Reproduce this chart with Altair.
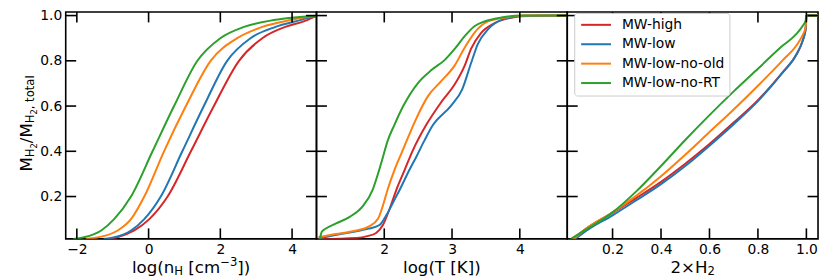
import altair as alt
import pandas as pd

SERIES = ["MW-high", "MW-low", "MW-low-no-old", "MW-low-no-RT"]
COLORS = ["#d62728", "#1f77b4", "#ff7f0e", "#2ca02c"]

# ---- panel 1: log(n_H) ----
P1_Y = [0.012, 0.02, 0.05, 0.1, 0.2, 0.4, 0.6, 0.8, 0.9, 0.95, 0.98, 0.995, 1.0]
P1_X_HIGH = [-1.15, -0.87, -0.4, 0.02, 0.53, 1.18, 1.82, 2.52, 3.17, 3.81, 4.42, 4.62, 4.8]
P1_X_LOW = [-1.25, -0.95, -0.49, -0.12, 0.34, 0.94, 1.54, 2.19, 2.84, 3.54, 4.23, 4.55, 4.8]
P1_X_NOOLD = [-1.75, -1.4, -0.86, -0.49, -0.12, 0.43, 1.04, 1.73, 2.47, 3.17, 3.95, 4.45, 4.8]
P1_X_NORT = [-2.1, -1.8, -1.32, -0.96, -0.49, 0.11, 0.71, 1.36, 2.0, 2.66, 3.49, 4.3, 4.8]

# ---- panel 2: log(T) ----
P2_X_HIGH = [1.03, 1.6, 1.75, 1.88, 1.98, 2.08, 2.18, 2.30, 2.42, 2.62, 2.84, 3.04, 3.19, 3.28, 3.43, 3.63, 3.87, 4.07, 4.8]
P2_Y_HIGH = [0.012, 0.017, 0.025, 0.039, 0.074, 0.146, 0.231, 0.317, 0.403, 0.517, 0.617, 0.696, 0.781, 0.853, 0.924, 0.967, 0.99, 0.999, 1.0]
P2_X_LOW = [1.03, 1.28, 1.57, 1.77, 1.93, 2.03, 2.13, 2.23, 2.37, 2.47, 2.59, 2.72, 2.99, 3.15, 3.28, 3.38, 3.53, 3.73, 4.02, 4.8]
P2_Y_LOW = [0.014, 0.03, 0.045, 0.058, 0.074, 0.117, 0.174, 0.231, 0.317, 0.374, 0.446, 0.517, 0.603, 0.674, 0.789, 0.874, 0.939, 0.981, 0.997, 1.0]
P2_X_NOOLD = [1.03, 1.28, 1.57, 1.77, 1.91, 1.98, 2.05, 2.15, 2.25, 2.35, 2.45, 2.65, 2.84, 3.04, 3.19, 3.33, 3.53, 3.82, 4.05, 4.8]
P2_Y_NOOLD = [0.02, 0.034, 0.049, 0.067, 0.103, 0.16, 0.231, 0.317, 0.389, 0.46, 0.53, 0.646, 0.71, 0.78, 0.86, 0.924, 0.974, 0.993, 1.0, 1.0]
P2_X_NORT = [1.05, 1.08, 1.12, 1.29, 1.49, 1.69, 1.83, 1.91, 1.98, 2.05, 2.15, 2.28, 2.5, 2.7, 2.89, 3.04, 3.19, 3.33, 3.48, 3.73, 4.02, 4.8]
P2_Y_NORT = [0.012, 0.045, 0.055, 0.081, 0.11, 0.16, 0.231, 0.303, 0.374, 0.446, 0.517, 0.60, 0.703, 0.76, 0.803, 0.853, 0.91, 0.953, 0.974, 0.991, 1.0, 1.0]

# ---- panel 3: 2 x H2 ----
P3_X_TAIL = [0.1, 0.2, 0.3, 0.4, 0.5, 0.6, 0.7, 0.8, 0.9, 0.96, 0.985, 0.997, 1.0, 1.06]
P3_X_START = [0.035, 0.045, 0.04, 0.027]
P3_Y_HIGH = [0.012, 0.065, 0.128, 0.195, 0.265, 0.345, 0.432, 0.527, 0.626, 0.747, 0.83, 0.89, 0.94, 1.0, 1.0]
P3_Y_LOW = [0.012, 0.055, 0.117, 0.185, 0.255, 0.335, 0.425, 0.52, 0.622, 0.745, 0.83, 0.89, 0.94, 1.0, 1.0]
P3_Y_NOOLD = [0.012, 0.065, 0.13, 0.205, 0.29, 0.385, 0.485, 0.585, 0.69, 0.80, 0.87, 0.915, 0.95, 1.0, 1.0]
P3_Y_NORT = [0.012, 0.06, 0.13, 0.225, 0.335, 0.45, 0.56, 0.665, 0.765, 0.865, 0.92, 0.955, 0.978, 1.0, 1.0]

Y_TICKS = [0.2, 0.4, 0.6, 0.8, 1.0]
P1_TICKS = [-2, 0, 2, 4]
P2_TICKS = [2, 3, 4]
P3_TICKS = [0.2, 0.4, 0.6, 0.8, 1.0]

Y_DOM = [0.013, 1.016]
P1_DOM = [-2.31, 4.68]
P2_DOM = [1.0, 4.7]
P3_DOM = [0.013, 1.048]

W, H, TL = 252, 228, 10.5
FONT = "DejaVu Sans"
F, S, SS = 16.7, 11.7, 8.3

ADV = {'M': 0.863, 'H': 0.752, '2': 0.636, '/': 0.337, ',': 0.318, ' ': 0.318, 't': 0.392,
       'o': 0.612, 'a': 0.613, 'l': 0.278, 'g': 0.635, '(': 0.390, ')': 0.390, 'n': 0.634,
       '[': 0.390, ']': 0.390, 'c': 0.550, 'm': 0.974, '\u2212': 0.838, '3': 0.636,
       '\u00d7': 0.838, 'T': 0.611, 'K': 0.656}


def tw(s, size):
    return sum(ADV[c] for c in s) * size


def frame(xs_list, ys_list):
    rows = []
    for name, xs, ys in zip(SERIES, xs_list, ys_list):
        for x, y in zip(xs, ys):
            rows.append({"series": name, "x": x, "y": y})
    return pd.DataFrame(rows)


df1 = frame([P1_X_HIGH, P1_X_LOW, P1_X_NOOLD, P1_X_NORT], [P1_Y] * 4)
df2 = frame([P2_X_HIGH, P2_X_LOW, P2_X_NOOLD, P2_X_NORT], [P2_Y_HIGH, P2_Y_LOW, P2_Y_NOOLD, P2_Y_NORT])
df3 = frame([[s] + P3_X_TAIL for s in P3_X_START], [P3_Y_HIGH, P3_Y_LOW, P3_Y_NOOLD, P3_Y_NORT])

AX = dict(domain=False, ticks=False, tickSize=0, grid=False, labelPadding=4, labelFontSize=13.9,
          labelFont=FONT, labelColor="black", title=None, labelFlush=False)


def text_layer(s, x, y, size, angle=None, align="left"):
    kw = dict(align=align, baseline="alphabetic", font=FONT, fontSize=size, color="black")
    if angle is not None:
        kw["angle"] = angle
    return alt.Chart(pd.DataFrame({"t": [s]})).mark_text(**kw).encode(
        x=alt.value(x), y=alt.value(y), text="t:N")


def pieces_h(pieces, base_y, center_x):
    total = sum(tw(s, sz) for s, sz, _ in pieces)
    x = center_x - total / 2
    out = []
    for s, sz, dy in pieces:
        lead = len(s) - len(s.lstrip(" "))
        out.append(text_layer(s.strip(" "), x + tw(" " * lead, sz), base_y + dy, sz))
        x += tw(s, sz)
    return out


def panel(df, dom, ticks, fmt, show_y, legend):
    xs = alt.Scale(domain=dom, nice=False, zero=False)
    ys = alt.Scale(domain=Y_DOM, nice=False, zero=False)
    xax = alt.Axis(values=ticks, format=fmt, **AX)
    yax = alt.Axis(values=Y_TICKS, format=".1f", **AX) if show_y else None
    xenc = alt.X("x:Q", scale=xs, axis=xax)
    yenc = alt.Y("y:Q", scale=ys, axis=yax)
    lines = alt.Chart(df).mark_line(interpolate="monotone", strokeWidth=2, clip=True).encode(
        x=xenc, y=yenc,
        color=alt.Color("series:N", scale=alt.Scale(domain=SERIES, range=COLORS), legend=legend),
    )
    ydf = pd.DataFrame({"y": Y_TICKS})
    xdf = pd.DataFrame({"x": ticks})
    tk = dict(color="black", strokeWidth=1.6)
    yl = alt.Chart(ydf).mark_rule(**tk).encode(y=yenc, x=alt.value(0), x2=alt.value(TL))
    yr = alt.Chart(ydf).mark_rule(**tk).encode(y=yenc, x=alt.value(W - TL), x2=alt.value(W))
    xb = alt.Chart(xdf).mark_rule(**tk).encode(x=xenc, y=alt.value(H - TL), y2=alt.value(H))
    xt = alt.Chart(xdf).mark_rule(**tk).encode(x=xenc, y=alt.value(0), y2=alt.value(TL))
    return [lines, yl, yr, xb, xt]


BASE = H + 34

# panel 1
layers1 = panel(df1, P1_DOM, P1_TICKS, "d", True, None)
layers1 += pieces_h([("log(n", F, 0), ("H", S, 2.2), (" [cm", F, 0), ("\u22123", S, -6.5), ("])", F, 0)], BASE, W / 2)
ytitle = [("M", F, 0), ("H", S, 2.4), ("2", SS, 4.8), ("/", F, 0), ("M", F, 0), ("H", S, 2.4), ("2", SS, 4.8), (", total", S, 2.4)]
L = sum(tw(s, sz) for s, sz, _ in ytitle)
yy = H / 2 - 2 + L / 2
for s, sz, dx in ytitle:
    layers1.append(text_layer(s, -34 + dx, yy, sz, angle=270))
    yy -= tw(s, sz)
p1 = alt.layer(*layers1).properties(width=W, height=H)

# panel 2
layers2 = panel(df2, P2_DOM, P2_TICKS, "d", False, None)
layers2 += pieces_h([("log(T [K])", F, 0)], BASE, W / 2)
p2 = alt.layer(*layers2).properties(width=W, height=H)

# panel 3
leg = alt.Legend(orient="none", legendX=7, legendY=1, title=None, symbolType="M-1,0L5,0", symbolSize=100,
                 symbolStrokeWidth=2, labelFontSize=13.9, labelFont=FONT, labelColor="black",
                 padding=5, rowPadding=4.5, labelOffset=29, fillColor="white", strokeColor="#cccccc",
                 cornerRadius=3)
layers3 = panel(df3, P3_DOM, P3_TICKS, ".1f", False, leg)
layers3 += pieces_h([("2\u00d7H", F, 0), ("2", S, 2.2)], BASE, W / 2)
p3 = alt.layer(*layers3).properties(width=W, height=H)

chart = alt.hconcat(p1, p2, p3, spacing=0, bounds="flush").resolve_legend(color="independent").properties(
    padding={"left": 10, "top": -1.7, "right": 2, "bottom": 2}
).configure_view(stroke="black", strokeWidth=1.6)

chart.save("out.html", embed_options={"renderer": "svg", "actions": False})
